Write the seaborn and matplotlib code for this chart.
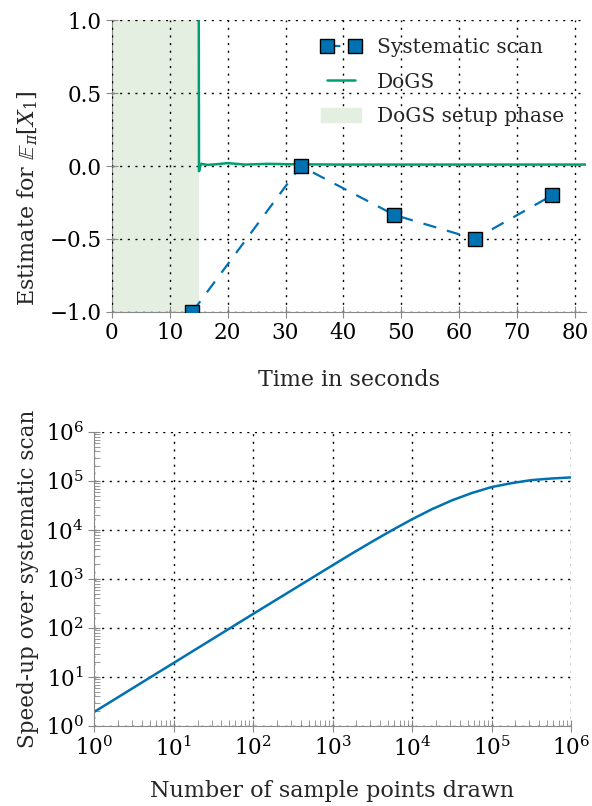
import numpy as np
import pandas as pd
from matplotlib import pyplot as plt
from matplotlib import ticker
import seaborn as sns

# systematic scan estimates (time in s, estimate)
scan_time = [13.9, 32.6, 48.8, 62.7, 76.1]
scan_est = [-1.0, 0.0, -0.335, -0.5, -0.2]

# DoGS estimate after setup phase
dogs_time = [15.0, 15.05, 15.4, 16.5, 18.0, 20.0, 23.0, 27.0, 31.0, 40.0, 50.0, 60.0, 70.0, 82.0]
dogs_est = [1.3, -0.035, 0.015, 0.008, 0.012, 0.02, 0.01, 0.015, 0.012, 0.01, 0.01, 0.01, 0.01, 0.01]
setup_end = 15.0

# speed-up over systematic scan vs number of sample points
n_points = [1, 3.16, 10, 31.6, 100, 316, 1000, 1780, 3160, 5620, 1e4, 1.78e4,
            3.16e4, 5.62e4, 1e5, 1.78e5, 3.16e5, 5.62e5, 1e6]
speedup = [1.93, 6.1, 19.3, 61, 193, 605, 1900, 3350, 5800, 9900, 16500, 26500,
           40000, 56500, 75000, 90000, 104000, 112000, 118000]

sns.set_style("ticks")
plt.rcParams['font.family'] = ['DejaVu Serif']
plt.rcParams['mathtext.fontset'] = 'dejavuserif'
plt.rcParams['axes.edgecolor'] = '#888888'
plt.rcParams['xtick.color'] = '#888888'
plt.rcParams['ytick.color'] = '#888888'
plt.rcParams['xtick.labelcolor'] = 'black'
plt.rcParams['ytick.labelcolor'] = 'black'

blue = '#0072b2'
green = '#009e73'
fs = 16      # axis labels
tfs = 15.5   # tick labels
lfs = 14.5   # legend

fig = plt.figure(figsize=(5.92, 8.06), dpi=100)
ax1 = fig.add_axes([0.189, 0.613, 0.8017, 0.362])
ax2 = fig.add_axes([0.159, 0.0993, 0.8055, 0.3648])

# ======================top: estimates over time===========================
scan_df = pd.DataFrame({'t': scan_time, 'est': scan_est})
dogs_df = pd.DataFrame({'t': dogs_time, 'est': dogs_est})

ax1.axvspan(0, setup_end, color='#e5efe1', lw=0, zorder=0)
sns.lineplot(data=scan_df, x='t', y='est', ax=ax1, color=blue, lw=1.6,
             marker='s', markersize=10.5, markerfacecolor=blue, markeredgecolor='black',
             markeredgewidth=1.0, estimator=None, sort=False, zorder=4)
ax1.lines[-1].set_dashes([6, 5])
sns.lineplot(data=dogs_df, x='t', y='est', ax=ax1, color=green, lw=1.8,
             estimator=None, sort=False, zorder=3)

ax1.set_xlim(0, 82)
ax1.set_ylim(-1.0, 1.0)
ax1.set_xticks(range(0, 81, 10))
ax1.set_yticks([-1.0, -0.5, 0.0, 0.5, 1.0])
ax1.yaxis.set_major_formatter(ticker.FuncFormatter(lambda v, p: f'{v:.1f}'.replace('-', '\u2212')))
ax1.grid(True, color='black', linestyle=(0, (1.5, 4)), lw=1.0)
ax1.set_axisbelow(False)
ax1.tick_params(direction='inout', length=8, labelsize=tfs)
ax1.set_xlabel('Time in seconds', fontsize=fs)
ax1.set_ylabel(r'Estimate for $\mathbb{E}_\pi[X_1]$', fontsize=fs)
ax1.yaxis.set_label_coords(-0.152, 0.39)
ax1.xaxis.set_label_coords(0.5, -0.195)
sns.despine(ax=ax1, top=True, right=True)

handles = [ax1.lines[0], ax1.lines[1],
           plt.Rectangle((0, 0), 1, 1, color='#e5efe1')]
leg = ax1.legend(handles, ['Systematic scan', 'DoGS', 'DoGS setup phase'],
                 loc='upper right', bbox_to_anchor=(0.97, 0.965), borderaxespad=0,
                 frameon=False, fontsize=lfs, numpoints=2, labelspacing=0.75)

# ======================bottom: speed-up===========================
speed_df = pd.DataFrame({'n': n_points, 's': speedup})
sns.lineplot(data=speed_df, x='n', y='s', ax=ax2, color=blue, lw=1.8,
             estimator=None, sort=False)
ax2.set_xscale('log')
ax2.set_yscale('log')
ax2.set_xlim(1, 1e6)
ax2.set_ylim(1, 1e6)
ax2.xaxis.set_major_locator(ticker.LogLocator(base=10, numticks=10))
ax2.yaxis.set_major_locator(ticker.LogLocator(base=10, numticks=10))
ax2.xaxis.set_minor_locator(ticker.LogLocator(base=10, subs=np.arange(2, 10), numticks=20))
ax2.yaxis.set_minor_locator(ticker.LogLocator(base=10, subs=np.arange(2, 10), numticks=20))
ax2.xaxis.set_minor_formatter(ticker.NullFormatter())
ax2.yaxis.set_minor_formatter(ticker.NullFormatter())
ax2.grid(True, which='major', color='black', linestyle=(0, (1.5, 4)), lw=1.0)
ax2.tick_params(which='major', direction='inout', length=8, labelsize=tfs)
ax2.tick_params(which='minor', direction='in', length=4)
ax2.set_xlabel('Number of sample points drawn', fontsize=fs)
ax2.set_ylabel('Speed-up over systematic scan', fontsize=15.5)
ax2.yaxis.set_label_coords(-0.116, 0.5)
ax2.xaxis.set_label_coords(0.5, -0.185)
sns.despine(ax=ax2, top=True, right=True)

fig.savefig('out.png', dpi=100)
